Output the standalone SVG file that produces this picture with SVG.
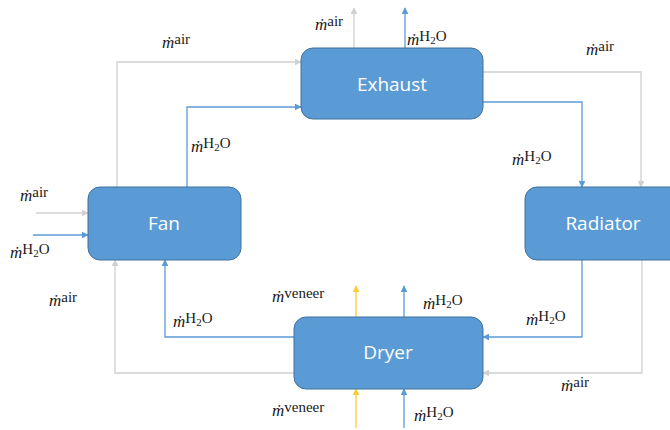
<svg xmlns="http://www.w3.org/2000/svg" width="670" height="430" viewBox="0 0 670 430">
  <defs>
    <marker id="ah-gray" viewBox="0 0 10 10" refX="9" refY="5" markerWidth="7" markerHeight="7" markerUnits="userSpaceOnUse" orient="auto">
      <path d="M0,0 L10,5 L0,10 z" fill="#d0d0d0"/>
    </marker>
    <marker id="ah-blue" viewBox="0 0 10 10" refX="9" refY="5" markerWidth="7" markerHeight="7" markerUnits="userSpaceOnUse" orient="auto">
      <path d="M0,0 L10,5 L0,10 z" fill="#5b9bd5"/>
    </marker>
    <marker id="ah-yellow" viewBox="0 0 10 10" refX="9" refY="5" markerWidth="7" markerHeight="7" markerUnits="userSpaceOnUse" orient="auto">
      <path d="M0,0 L10,5 L0,10 z" fill="#ffcc33"/>
    </marker>
  </defs>
  <style>
    .box { fill: #5b9bd5; stroke: #41719c; stroke-width: 1; }
    .name { font-family: "Open Sans", "Liberation Sans", sans-serif; font-size: 19px; fill: #ffffff; text-anchor: middle; dominant-baseline: central; }
    .air { fill: none; stroke: #d0d0d0; stroke-width: 1.3; marker-end: url(#ah-gray); }
    .h2o { fill: none; stroke: #5b9bd5; stroke-width: 1.3; marker-end: url(#ah-blue); }
    .ven { fill: none; stroke: #ffcc33; stroke-width: 1.3; marker-end: url(#ah-yellow); }
    .lbl { font-family: "Liberation Serif", "DejaVu Serif", serif; font-size: 17px; fill: #1a1a1a; }
    .m { font-style: italic; }
    .sup { font-size: 15px; }
    .sub { font-size: 11px; }
  </style>

  <!-- connectors -->
  <g id="connectors">
    <!-- Fan to Exhaust -->
    <path class="air" d="M117,187 V62 H301"/>
    <path class="h2o" d="M187,187 V107 H301"/>
    <!-- Exhaust outlets -->
    <path class="air" d="M354,48 V8"/>
    <path class="h2o" d="M405,48 V8"/>
    <!-- Exhaust to Radiator -->
    <path class="air" d="M483,72 H641 V187"/>
    <path class="h2o" d="M483,102 H582 V187"/>
    <!-- Radiator to Dryer -->
    <path class="h2o" d="M582,260 V337 H483"/>
    <path class="air" d="M642,260 V373 H483"/>
    <!-- Dryer to Fan -->
    <path class="h2o" d="M294,337 H165 V260"/>
    <path class="air" d="M294,373 H115 V260"/>
    <!-- Fan inlets -->
    <path class="air" d="M36,213 H88"/>
    <path class="h2o" d="M33,235 H88"/>
    <!-- Dryer outlets -->
    <path class="ven" d="M356,317 V286"/>
    <path class="h2o" d="M404,317 V286"/>
    <!-- Dryer inlets -->
    <path class="ven" d="M356,428 V389"/>
    <path class="h2o" d="M404,428 V389"/>
  </g>

  <!-- nodes -->
  <g id="exhaust">
    <rect class="box" x="301" y="48" width="182" height="71" rx="12"/>
    <text class="name" x="392" y="84">Exhaust</text>
  </g>
  <g id="fan">
    <rect class="box" x="88" y="187" width="153" height="73" rx="12"/>
    <text class="name" x="164" y="223">Fan</text>
  </g>
  <g id="radiator">
    <rect class="box" x="525" y="187" width="160" height="73" rx="12"/>
    <text class="name" x="603" y="223">Radiator</text>
  </g>
  <g id="dryer">
    <rect class="box" x="294" y="317" width="189" height="72" rx="12"/>
    <text class="name" x="388" y="352">Dryer</text>
  </g>

  <!-- flow labels -->
  <g id="labels">
    <text class="lbl" x="162" y="48"><tspan class="m">ṁ</tspan><tspan class="sup" dy="-4">air</tspan></text>
    <text class="lbl" x="315" y="30"><tspan class="m">ṁ</tspan><tspan class="sup" dy="-4">air</tspan></text>
    <text class="lbl" x="407" y="45"><tspan class="m">ṁ</tspan><tspan class="sup" dy="-4">H</tspan><tspan class="sub" dy="3">2</tspan><tspan class="sup" dy="-3">O</tspan></text>
    <text class="lbl" x="586" y="55"><tspan class="m">ṁ</tspan><tspan class="sup" dy="-4">air</tspan></text>
    <text class="lbl" x="191" y="152"><tspan class="m">ṁ</tspan><tspan class="sup" dy="-4">H</tspan><tspan class="sub" dy="3">2</tspan><tspan class="sup" dy="-3">O</tspan></text>
    <text class="lbl" x="512" y="165"><tspan class="m">ṁ</tspan><tspan class="sup" dy="-4">H</tspan><tspan class="sub" dy="3">2</tspan><tspan class="sup" dy="-3">O</tspan></text>
    <text class="lbl" x="20" y="201"><tspan class="m">ṁ</tspan><tspan class="sup" dy="-4">air</tspan></text>
    <text class="lbl" x="10" y="258"><tspan class="m">ṁ</tspan><tspan class="sup" dy="-4">H</tspan><tspan class="sub" dy="3">2</tspan><tspan class="sup" dy="-3">O</tspan></text>
    <text class="lbl" x="49" y="306"><tspan class="m">ṁ</tspan><tspan class="sup" dy="-4">air</tspan></text>
    <text class="lbl" x="173" y="327"><tspan class="m">ṁ</tspan><tspan class="sup" dy="-4">H</tspan><tspan class="sub" dy="3">2</tspan><tspan class="sup" dy="-3">O</tspan></text>
    <text class="lbl" x="272" y="302"><tspan class="m">ṁ</tspan><tspan class="sup" dy="-4">veneer</tspan></text>
    <text class="lbl" x="423" y="309"><tspan class="m">ṁ</tspan><tspan class="sup" dy="-4">H</tspan><tspan class="sub" dy="3">2</tspan><tspan class="sup" dy="-3">O</tspan></text>
    <text class="lbl" x="526" y="325"><tspan class="m">ṁ</tspan><tspan class="sup" dy="-4">H</tspan><tspan class="sub" dy="3">2</tspan><tspan class="sup" dy="-3">O</tspan></text>
    <text class="lbl" x="561" y="391"><tspan class="m">ṁ</tspan><tspan class="sup" dy="-4">air</tspan></text>
    <text class="lbl" x="272" y="416"><tspan class="m">ṁ</tspan><tspan class="sup" dy="-4">veneer</tspan></text>
    <text class="lbl" x="414" y="421"><tspan class="m">ṁ</tspan><tspan class="sup" dy="-4">H</tspan><tspan class="sub" dy="3">2</tspan><tspan class="sup" dy="-3">O</tspan></text>
  </g>
</svg>
